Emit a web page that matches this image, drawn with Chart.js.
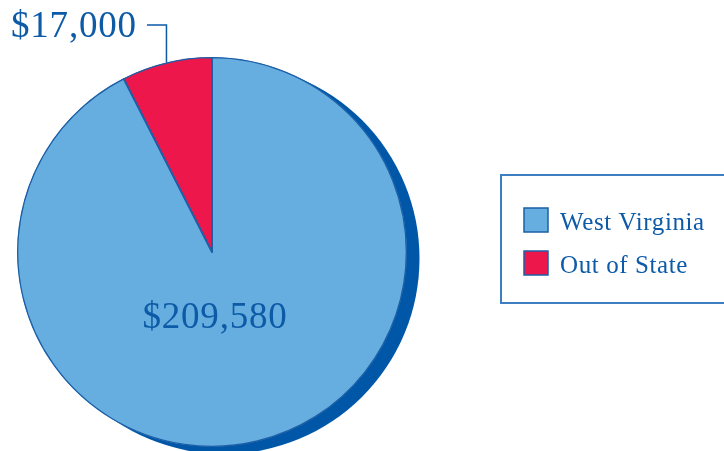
<!DOCTYPE html>
<html>
<head>
<meta charset="utf-8">
<script src="https://cdn.jsdelivr.net/npm/chart.js@4"></script>
<style>
  html, body { margin: 0; padding: 0; background: #fff; }
  canvas { display: block; }
</style>
</head>
<body>
<canvas id="pie" width="724" height="451"></canvas>
<script>
// Dati: ripartizione per provenienza.
const LABELS = ['West Virginia', 'Out of State'];
const VALUES = [209580, 17000];
const COLORS = ['#67aee0', '#ee174b'];

const INK = '#0d5aa7';
const SHADOW = '#0057a8';
const FONT = '"Liberation Serif", "DejaVu Serif", serif';

const fmtMoney = (v) => '$' + v.toLocaleString('en-US');

// Ombra piena dietro la torta, spostata in basso a destra.
const shadowPlugin = {
  id: 'pieShadow',
  beforeDatasetsDraw(chart) {
    const arc = chart.getDatasetMeta(0).data[0];
    if (!arc) return;
    const { ctx } = chart;
    ctx.save();
    ctx.fillStyle = SHADOW;
    ctx.beginPath();
    ctx.arc(arc.x + 12, arc.y + 6.5, arc.outerRadius + 0.5, 0, Math.PI * 2);
    ctx.fill();
    ctx.restore();
  },
};

// Etichette dei valori, linea di richiamo e legenda a riquadro.
const labelsPlugin = {
  id: 'pieLabels',
  afterDatasetsDraw(chart) {
    const { ctx } = chart;
    const meta = chart.getDatasetMeta(0);
    const big = meta.data[0];
    const small = meta.data[1];
    ctx.save();
    ctx.fillStyle = INK;
    ctx.strokeStyle = INK;
    ctx.textBaseline = 'alphabetic';

    // valore grande, dentro la fetta principale
    ctx.font = `37px ${FONT}`;
    ctx.letterSpacing = '0.8px';
    ctx.textAlign = 'center';
    ctx.fillText(fmtMoney(VALUES[0]), big.x + 3, big.y + 76);

    // valore piccolo, fuori, con richiamo a gomito
    const mid = (small.startAngle + small.endAngle) / 2;
    const ex = small.x + Math.cos(mid) * small.outerRadius;
    const ey = small.y + Math.sin(mid) * small.outerRadius;
    ctx.textAlign = 'left';
    ctx.fillText(fmtMoney(VALUES[1]), 11, 37);
    ctx.letterSpacing = '0px';
    ctx.lineWidth = 1.5;
    ctx.beginPath();
    ctx.moveTo(147, 25);
    ctx.lineTo(ex, 25);
    ctx.lineTo(ex, ey);
    ctx.stroke();

    // legenda
    ctx.lineWidth = 2;
    ctx.strokeStyle = '#3d7fc2';
    ctx.strokeRect(501, 175, 240, 128);
    ctx.font = `25px ${FONT}`;
    ctx.letterSpacing = '0.6px';
    LABELS.forEach((lab, i) => {
      const y = 208 + i * 43;
      ctx.fillStyle = COLORS[i];
      ctx.fillRect(524, y, 24, 24);
      ctx.lineWidth = 1.5;
      ctx.strokeStyle = '#1d5fa6';
      ctx.strokeRect(524, y, 24, 24);
      ctx.fillStyle = INK;
      ctx.fillText(lab, 560, y + 22);
    });
    ctx.restore();
  },
};

new Chart(document.getElementById('pie'), {
  type: 'pie',
  data: {
    labels: LABELS,
    datasets: [{
      data: VALUES,
      backgroundColor: COLORS,
      borderColor: '#1d5fa6',
      borderWidth: 1,
      borderAlign: 'inner',
    }],
  },
  options: {
    responsive: false,
    animation: false,
    layout: { padding: { left: 17, top: 57, right: 317, bottom: 4 } },
    plugins: {
      legend: { display: false },
      tooltip: { enabled: false },
    },
  },
  plugins: [shadowPlugin, labelsPlugin],
});
</script>
</body>
</html>
